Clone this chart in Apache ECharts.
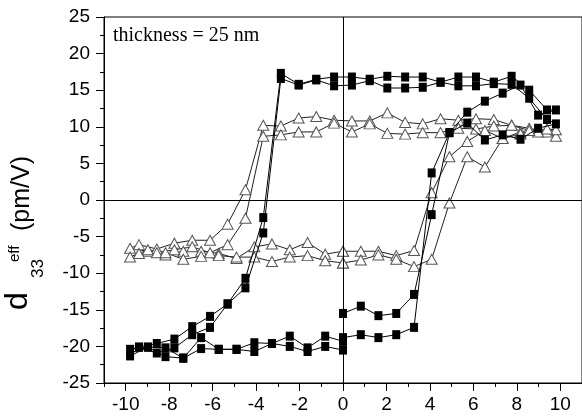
<!DOCTYPE html>
<html>
<head>
<meta charset="utf-8">
<script src="https://cdn.jsdelivr.net/npm/echarts@6/dist/echarts.min.js"></script>
<style>html,body{margin:0;padding:0;background:#fff}#c{width:582px;height:418px}</style>
</head>
<body>
<div id="c"></div>
<script>
// x positions of the measurement points (V)
const rise1X = [0, 0.82, 1.63, 2.45, 3.27, 4.08, 4.9, 5.72, 6.53, 7.35, 8.17, 8.98, 9.8];
const descX = [9.39, 8.57, 7.76, 6.94, 6.12, 5.31, 4.49, 3.67, 2.86, 2.04, 1.23, 0.41,
               -0.41, -1.23, -2.04, -2.86, -3.67, -4.49, -5.31, -6.12, -6.94, -7.76, -8.57, -9.39, -9.8];
const rise2X = [-8.98, -8.17, -7.35, -6.53, -5.72, -4.9, -4.08, -3.27, -2.45, -1.63, -0.82, 0];

// filled squares, loop A
const sqA_rise1 = [-15.5, -14.5, -15.8, -15.5, -12.9, -2.0, 9.2, 10.5, 8.2, 8.9, 8.3, 9.8, 10.4];
const sqA_desc = [11.0, 13.9, 15.8, 15.9, 15.6, 15.6, 16.1, 15.4, 15.3, 15.3, 16.3, 15.7,
                  15.6, 16.4, 15.7, 16.6, -4.5, -12.0, -14.2, -17.4, -18.4, -20.2, -20.9, -20.1, -21.3];
const sqA_rise2 = [-20.1, -21.4, -21.6, -20.3, -20.4, -20.4, -20.7, -19.6, -20.0, -20.7, -20.0, -20.5];
// filled squares, loop B
const sqB_rise1 = [-18.8, -18.4, -18.8, -18.4, -17.4, 3.7, 9.2, 12.0, 13.5, 14.6, 15.7, 11.6, 12.3];
const sqB_desc = [12.3, 15.0, 16.9, 16.1, 16.8, 16.8, 16.1, 16.8, 16.8, 16.9, 16.5, 16.8,
                  16.8, 16.5, 15.8, 17.3, -2.4, -10.7, -14.2, -15.9, -17.3, -19.0, -19.6, -20.1, -20.4];
const sqB_rise2 = [-20.1, -20.2, -21.6, -18.8, -20.4, -20.4, -19.5, -19.6, -18.6, -20.2, -18.6, -19.3];
// open triangles, loop 1
const tr1_rise1 = [-7.0, -7.0, -7.0, -7.6, -6.9, 1.0, 5.9, 8.0, 9.5, 8.4, 9.3, 9.5, 8.7];
const tr1_desc = [9.3, 9.8, 10.2, 11.0, 11.1, 10.9, 11.1, 10.4, 10.6, 11.9, 10.8, 10.8,
                  10.9, 11.4, 11.2, 10.1, 10.2, 1.4, -3.3, -5.5, -5.5, -5.9, -6.7, -6.1, -6.6];
const tr1_rise2 = [-7.0, -7.5, -7.0, -7.0, -7.3, -8.0, -6.4, -6.0, -6.8, -5.8, -7.4, -7.0];
// open triangles, loop 2
const tr2_rise1 = [-8.6, -8.2, -7.5, -8.1, -9.1, -8.1, -0.4, 5.9, 4.5, 8.4, 9.0, 9.3, 9.6];
const tr2_desc = [9.7, 9.5, 10.2, 10.1, 9.7, 9.8, 9.2, 9.2, 9.0, 9.1, 10.4, 9.3,
                  10.5, 9.3, 9.3, 8.9, 8.7, -2.5, -6.1, -7.2, -6.4, -6.8, -7.2, -7.3, -7.8];
const tr2_rise2 = [-6.8, -7.2, -8.1, -7.7, -7.6, -7.8, -7.8, -8.4, -7.8, -7.6, -8.3, -8.6];

// axis ticks and texts
const xMajorTicks = [-10, -8, -6, -4, -2, 0, 2, 4, 6, 8, 10];
const xMinorTicks = [-11, -9, -7, -5, -3, -1, 1, 3, 5, 7, 9, 11];
const annotation = 'thickness = 25 nm';

function loop(r1, d, r2) {
  return rise1X.map((x, i) => [x, r1[i]])
    .concat(descX.map((x, i) => [x, d[i]]))
    .concat(rise2X.map((x, i) => [x, r2[i]]));
}

const sans = '"Liberation Sans", Arial, sans-serif';
const chart = echarts.init(document.getElementById('c'), null, {renderer: 'canvas'});

function triSeries(data) {
  return {
    type: 'line', data: data, symbol: 'triangle', symbolSize: [11, 10], showAllSymbol: true,
    itemStyle: {color: '#fff', borderColor: '#555', borderWidth: 1},
    lineStyle: {color: '#222', width: 1}, z: 2, silent: true
  };
}
function sqSeries(data) {
  return {
    type: 'line', data: data, symbol: 'rect', symbolSize: [8, 9], showAllSymbol: true,
    itemStyle: {color: '#000'},
    lineStyle: {color: '#000', width: 1}, z: 3, silent: true
  };
}

const series = [
  triSeries(loop(tr1_rise1, tr1_desc, tr1_rise2)),
  triSeries(loop(tr2_rise1, tr2_desc, tr2_rise2)),
  sqSeries(loop(sqA_rise1, sqA_desc, sqA_rise2)),
  sqSeries(loop(sqB_rise1, sqB_desc, sqB_rise2))
];
series[0].markLine = {
  silent: true, symbol: 'none', label: {show: false},
  lineStyle: {color: '#000', width: 1, type: 'solid'},
  data: [{xAxis: 0}, {yAxis: 0}]
};

function vtext(text, x, y, size) {
  return {type: 'text', x: x, y: y, rotation: Math.PI / 2,
          style: {text: text, font: size + 'px ' + sans, fill: '#000', align: 'left', verticalAlign: 'bottom'}};
}

chart.setOption({
  animation: false,
  backgroundColor: '#fff',
  grid: {left: 104, right: -3, top: 17, bottom: 35, show: true, borderColor: '#000', borderWidth: 1, backgroundColor: 'transparent'},
  xAxis: [{
    type: 'value', min: -11, max: 11, position: 'bottom',
    axisLine: {show: true, onZero: false, lineStyle: {color: '#000', width: 1}},
    axisTick: {show: true, length: 8, customValues: xMajorTicks, lineStyle: {color: '#000'}},
    axisLabel: {show: true, customValues: xMajorTicks, fontSize: 19, color: '#000', fontFamily: sans, margin: 12},
    splitLine: {show: false}
  }, {
    type: 'value', min: -11, max: 11, position: 'bottom', offset: 0,
    axisLine: {show: false, onZero: false},
    axisTick: {show: true, length: 4, customValues: xMinorTicks, lineStyle: {color: '#000'}},
    axisLabel: {show: false},
    splitLine: {show: false}
  }],
  yAxis: {
    type: 'value', min: -25, max: 25, interval: 5,
    axisLine: {show: true, onZero: false, lineStyle: {color: '#000', width: 1}},
    axisTick: {show: true, length: 8, lineStyle: {color: '#000'}},
    minorTick: {show: true, splitNumber: 2, length: 4, lineStyle: {color: '#000'}},
    axisLabel: {fontSize: 19, color: '#000', fontFamily: sans, margin: 14},
    splitLine: {show: false}
  },
  graphic: [
    {
      type: 'text', left: 113, top: 26,
      style: {text: annotation, font: '20px "Liberation Serif", "Times New Roman", serif', fill: '#000'}
    },
    vtext('d', 34, 310, 32),
    vtext('33', 47, 278, 17),
    vtext('eff', 22, 262, 15),
    vtext('(pm/V)', 35, 231, 25)
  ],
  series: series
});
</script>
</body>
</html>
